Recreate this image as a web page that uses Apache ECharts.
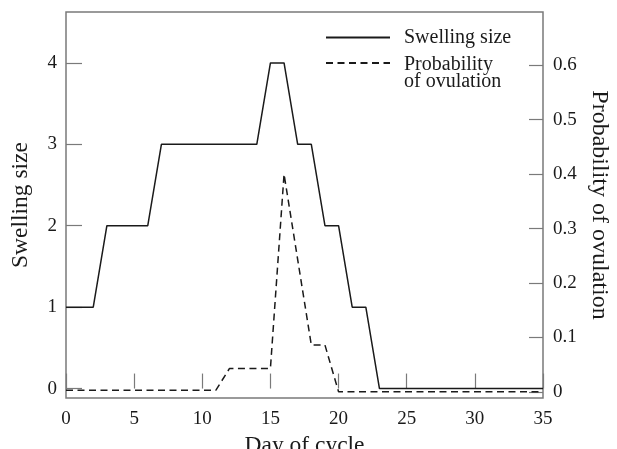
<!DOCTYPE html>
<html>
<head>
<meta charset="utf-8">
<script src="https://cdn.jsdelivr.net/npm/echarts@6/dist/echarts.min.js"></script>
<style>
html,body{margin:0;padding:0;background:#fff;}
#chart{width:617px;height:449px;}
</style>
</head>
<body>
<div id="chart"></div>
<script>
// Data
var swellingDays = [0, 2, 3, 6, 7, 14, 15, 16, 17, 18, 19, 20, 21, 22, 23, 35];
var swellingSize = [1, 1, 2, 2, 3, 3, 4, 4, 3, 3, 2, 2, 1, 1, 0, 0];
var ovulationDays = [0, 11, 12, 15, 16, 18, 19, 20, 35];
var ovulationProb = [0.003, 0.003, 0.043, 0.043, 0.40, 0.086, 0.086, 0, 0];
var xTicks = [0, 5, 10, 15, 20, 25, 30, 35];
var leftTicks = [0, 1, 2, 3, 4];
var rightTicks = [0, 0.1, 0.2, 0.3, 0.4, 0.5, 0.6];

var FONT = '"Liberation Serif", "DejaVu Serif", serif';
var AXIS = '#7a7a7a';
var INK = '#1a1a1a';

function pairs(xs, ys) { return xs.map(function (x, i) { return [x, ys[i]]; }); }

var chart = echarts.init(document.getElementById('chart'));
chart.setOption({
  backgroundColor: '#fff',
  animation: false,
  grid: { left: 66, right: 74, top: 12, bottom: 51, containLabel: false, outerBoundsMode: 'none',
    show: true, borderColor: AXIS, borderWidth: 1.5, backgroundColor: 'transparent' },
  legend: [
    { data: ['Swelling size'], orient: 'vertical', left: 325, top: 27.5, padding: 0, itemWidth: 64, itemHeight: 14,
      itemStyle: { opacity: 0, borderWidth: 0 },
      textStyle: { fontFamily: FONT, fontSize: 20, lineHeight: 17, color: INK, padding: [0, 0, 0, 9] } },
    { data: ['Probability of ovulation'], orient: 'vertical', left: 325, top: 36, padding: 0, itemWidth: 64, itemHeight: 14,
      itemStyle: { opacity: 0, borderWidth: 0 },
      formatter: function () { return '{e| }\n{t|Probability}\n{t|of ovulation}'; },
      textStyle: { fontFamily: FONT, fontSize: 20, color: INK, padding: [0, 0, 0, 9],
        rich: { e: { fontSize: 20, lineHeight: 21 }, t: { fontFamily: FONT, fontSize: 20, lineHeight: 17, color: INK } } } }
  ],
  xAxis: {
    type: 'value', min: 0, max: 35, interval: 5,
    name: 'Day of cycle', nameLocation: 'middle', nameGap: 33,
    nameTextStyle: { fontFamily: FONT, fontSize: 23.5, color: INK },
    axisLine: { show: false },
    axisTick: { show: true, inside: true, length: 15, lineStyle: { color: AXIS, width: 1.2 } },
    axisLabel: { fontFamily: FONT, fontSize: 19, color: INK, margin: 12, customValues: xTicks },
    splitLine: { show: false }
  },
  yAxis: [
    {
      type: 'value', min: -0.116, max: 4.625, position: 'left',
      name: 'Swelling size', nameLocation: 'middle', nameGap: 33, nameRotate: 90,
      nameTextStyle: { fontFamily: FONT, fontSize: 23.5, color: INK },
      axisLine: { show: false },
      axisTick: { show: true, inside: true, length: 16, customValues: leftTicks, lineStyle: { color: AXIS, width: 1.2 } },
      axisLabel: { fontFamily: FONT, fontSize: 19, color: INK, margin: 9, customValues: leftTicks },
      splitLine: { show: false }
    },
    {
      type: 'value', min: -0.0114, max: 0.698, position: 'right', alignTicks: false,
      name: 'Probability of ovulation', nameLocation: 'middle', nameGap: 43.5, nameRotate: -90,
      nameTextStyle: { fontFamily: FONT, fontSize: 24, color: INK },
      axisLine: { show: false },
      axisTick: { show: true, inside: true, length: 14, customValues: rightTicks, lineStyle: { color: AXIS, width: 1.2 } },
      axisLabel: { fontFamily: FONT, fontSize: 19, color: INK, margin: 10, customValues: rightTicks,
        formatter: function (v) { return v === 0 ? '0' : v.toFixed(1); } },
      splitLine: { show: false }
    }
  ],
  series: [
    {
      name: 'Swelling size', type: 'line', yAxisIndex: 0, symbol: 'none',
      data: pairs(swellingDays, swellingSize),
      lineStyle: { color: INK, width: 1.5, type: 'solid' },
      itemStyle: { color: INK }
    },
    {
      name: 'Probability of ovulation', type: 'line', yAxisIndex: 1, symbol: 'none',
      data: pairs(ovulationDays, ovulationProb),
      lineStyle: { color: INK, width: 1.5, type: [7, 4.5] },
      itemStyle: { color: INK }
    }
  ]
});
</script>
</body>
</html>
